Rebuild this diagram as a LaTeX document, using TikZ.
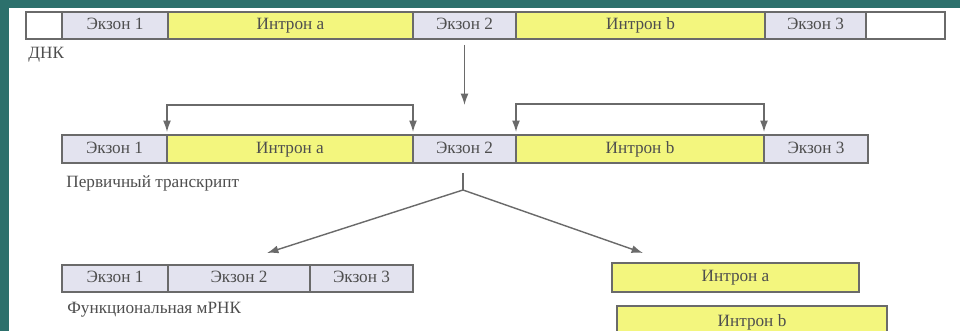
\documentclass[tikz,border=0pt]{standalone}
\usepackage{fontspec}
\setmainfont{Liberation Serif}
\usetikzlibrary{arrows.meta, positioning, calc}

\definecolor{frameteal}{HTML}{2C706C}
\definecolor{linegray}{HTML}{6A6A6A}
\definecolor{txtgray}{HTML}{4E4E4E}
\definecolor{exonfill}{HTML}{E3E3EF}
\definecolor{intronfill}{HTML}{F3F67E}

\begin{document}
\begin{tikzpicture}[x=0.02cm, y=-0.02cm,
    seg/.style={draw=linegray, line width=0.7pt, inner sep=0pt, outer sep=0pt,
        minimum height=0.54cm, anchor=north west, text=txtgray,
        text height=1.55ex, text depth=0.45ex,
        font=\fontsize{9.8}{11}\selectfont},
    exon/.style={seg, fill=exonfill},
    intron/.style={seg, fill=intronfill},
    blank/.style={seg, fill=white},
    lbl/.style={text=txtgray, inner sep=0pt, anchor=west,
        font=\fontsize{9.8}{11}\selectfont},
    link/.style={draw=linegray, line width=0.8pt},
    arr/.style={link, -{Latex[length=6.5pt,width=4.5pt]}},
    twoarr/.style={link, {Latex[length=6.5pt,width=4.5pt]}-{Latex[length=6.5pt,width=4.5pt]}}]

    \useasboundingbox (0,0) rectangle (960,331);
    \clip (0,0) rectangle (960,331);

    % Frame
    \fill[white] (0,0) rectangle (960,331);
    \fill[frameteal] (0,0) rectangle (960,8);
    \fill[frameteal] (0,0) rectangle (9,331);

    % DNA
    \foreach \nm/\a/\b/\st/\txt in {dA/26/62/blank/{}, dE1/62/168/exon/Экзон 1,
        dIa/168/413/intron/Интрон a, dE2/413/516/exon/Экзон 2,
        dIb/516/765/intron/Интрон b, dE3/765/866/exon/Экзон 3, dB/866/945/blank/{}}
    \node[\st, minimum width={(\b-\a)*0.02cm}] (\nm) at (\a,12) {\txt};
    \node[lbl] (dnk) at ([xshift=0.04cm, yshift=-0.32cm]dA.south west) {ДНК};

    % Primary transcript
    \foreach \nm/\a/\b/\st/\txt in {tE1/62/167/exon/Экзон 1,
        tIa/167/413/intron/Интрон a, tE2/413/516/exon/Экзон 2,
        tIb/516/764/intron/Интрон b, tE3/764/868/exon/Экзон 3}
    \node[\st, minimum width={(\b-\a)*0.02cm}, minimum height=0.56cm] (\nm) at (\a,135) {\txt};
    \node[lbl] (prim) at ([xshift=0.08cm, yshift=-0.4cm]tE1.south west) {Первичный транскрипт};

    % Transcription arrow
    \draw[arr] ([yshift=-0.12cm]dE2.south) -- ([yshift=0.6cm]tE2.north);

    % Splice brackets
    \draw[twoarr] ([yshift=0.06cm]tIa.north west) -- ++(0,0.54cm) -| ([yshift=0.06cm]tIa.north east);
    \draw[twoarr] ([yshift=0.06cm]tIb.north west) -- ++(0,0.56cm) -| ([yshift=0.06cm]tIb.north east);

    % Mature mRNA
    \foreach \nm/\a/\b/\txt in {mE1/62/168/Экзон 1, mE2/168/310/Экзон 2, mE3/310/413/Экзон 3}
    \node[exon, minimum width={(\b-\a)*0.02cm}] (\nm) at (\a,265) {\txt};
    \node[lbl] (mrna) at ([xshift=0.1cm, yshift=-0.36cm]mE1.south west) {Функциональная мРНК};

    % Excised introns
    \node[intron, minimum width={(859-612)*0.02cm}, minimum height=0.58cm] (rIa) at (612,263) {Интрон a};
    \node[intron, minimum width={(887-617)*0.02cm}, minimum height=0.66cm] (rIb) at (617,306) {Интрон b};

    % Splicing fork
    \coordinate (fk) at ([xshift=-0.03cm, yshift=-0.2cm]tE2.south);
    \coordinate (fj) at ([yshift=-0.34cm]fk);
    \draw[link] (fk) -- (fj);
    \draw[arr] (fj) -- ([xshift=0.56cm, yshift=0.24cm]mE2.north);
    \draw[arr] (fj) -- ([xshift=0.62cm, yshift=0.2cm]rIa.north west);
\end{tikzpicture}
\end{document}
